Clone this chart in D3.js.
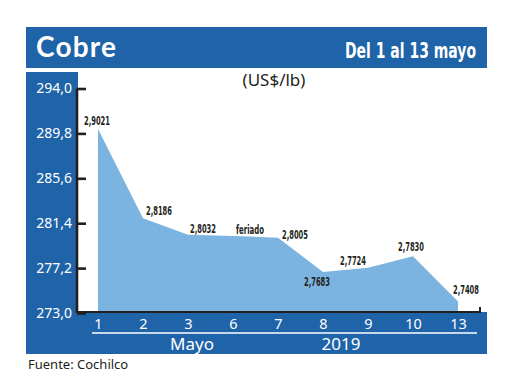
<!DOCTYPE html>
<html><head><meta charset="utf-8">
<script src="https://cdn.jsdelivr.net/npm/d3@7"></script>
<style>
html,body{margin:0;padding:0;background:#fff;}
svg{display:block;}
</style></head>
<body>
<svg id="c" width="520" height="390"></svg>
<script>
const categories = ["1","2","3","6","7","8","9","10","13"];
const values = [290.21, 281.86, 280.32, 280.2, 280.05, 276.83, 277.24, 278.30, 274.08];
const valueLabels = ["2,9021","2,8186","2,8032","feriado","2,8005","2,7683","2,7724","2,7830","2,7408"];
const yTicks = [273.0, 277.2, 281.4, 285.6, 289.8, 294.0];
const labelOffsets = [[-1,-4],[16,-3],[15,-2],[17,-2],[17,1],[-6,14],[-15,-3],[-2,-5],[8,-7]];

const BLUE = "#1f63a8", AREA = "#7bb4e0", DARK = "#231f20";
const svg = d3.select("#c");
const data = categories.map((c,i)=>({c, v: values[i], label: valueLabels[i], off: labelOffsets[i]}));

// panels
svg.append("rect").attr("x",26).attr("y",27).attr("width",461).attr("height",41).attr("fill",BLUE);
svg.append("rect").attr("x",26).attr("y",72).attr("width",52).attr("height",282).attr("fill",BLUE);
svg.append("rect").attr("x",26).attr("y",312).attr("width",461).attr("height",42).attr("fill",BLUE);

// title
svg.append("text").attr("x",36).attr("y",57).text("Cobre")
  .attr("fill","#fff").attr("font-family","Lato, 'Noto Sans', sans-serif").attr("font-weight","bold")
  .attr("font-size",28).attr("letter-spacing",1.2);
const sub = svg.append("text").attr("text-anchor","end").text("Del 1 al 13 mayo")
  .attr("fill","#fff").attr("font-family","'DejaVu Sans Condensed',sans-serif")
  .attr("font-weight","bold").attr("font-size",20.5);
const sw = sub.node().getComputedTextLength();
sub.attr("transform","translate(476,58) scale("+(131/sw)+",1)");
svg.append("text").attr("x",274).attr("y",86).attr("text-anchor","middle").text("(US$/lb)")
  .attr("fill",DARK).attr("font-family","'Noto Sans', sans-serif").attr("font-size",17);

// scales
const x = d3.scalePoint().domain(categories).range([98,458]).padding(0);
const y = d3.scaleLinear().domain([273,294]).range([313,88.5]);

// area
const area = d3.area().x(d=>x(d.c)).y0(312).y1(d=>y(d.v));
svg.append("path").datum(data).attr("d",area).attr("fill",AREA);

// y axis
const yAxis = d3.axisLeft(y).tickValues(yTicks).tickSize(-9).tickPadding(5)
  .tickFormat(d=>d3.format(".1f")(d).replace(".",","));
const gy = svg.append("g").attr("transform","translate(77,0)").call(yAxis);
gy.select(".domain").attr("stroke",DARK).attr("stroke-width",2.6).attr("d","M0,"+y(294)+"V"+y(273));
gy.selectAll(".tick line").attr("stroke",DARK).attr("stroke-width",2.6);
gy.selectAll(".tick text").attr("fill","#fff").attr("font-family","'Noto Sans', sans-serif").attr("font-size",14);

// x axis line
svg.append("line").attr("x1",77).attr("x2",481).attr("y1",312).attr("y2",312).attr("stroke",DARK).attr("stroke-width",2);
svg.append("line").attr("x1",480).attr("x2",480).attr("y1",307).attr("y2",312).attr("stroke",DARK).attr("stroke-width",2);

// x axis labels
const xAxis = d3.axisBottom(x).tickSize(0).tickPadding(4);
const gx = svg.append("g").attr("transform","translate(0,315)").call(xAxis);
gx.select(".domain").remove();
gx.selectAll(".tick text").attr("fill","#fff").attr("font-family","'Noto Sans', sans-serif").attr("font-size",14.5);
svg.append("line").attr("x1",92).attr("x2",477).attr("y1",333).attr("y2",333).attr("stroke","#fff").attr("stroke-width",1.5);
svg.append("text").attr("x",192).attr("y",350).attr("text-anchor","middle").text("Mayo")
  .attr("fill","#fff").attr("font-family","'Noto Sans', sans-serif").attr("font-size",17);
svg.append("text").attr("x",341).attr("y",350).attr("text-anchor","middle").text("2019")
  .attr("fill","#fff").attr("font-family","'Noto Sans', sans-serif").attr("font-size",17);

// data labels
svg.append("g").selectAll("text").data(data).join("text")
  .attr("x",d=>x(d.c)+d.off[0]).attr("y",d=>y(d.v)+d.off[1])
  .attr("text-anchor","middle").text(d=>d.label)
  .attr("fill",DARK).attr("font-family","'DejaVu Sans Condensed',sans-serif")
  .attr("font-weight","bold").attr("font-size",12.5)
  .attr("textLength",d=>d.label==="feriado"?28:26).attr("lengthAdjust","spacingAndGlyphs");

// source
svg.append("text").attr("x",28).attr("y",369).text("Fuente: Cochilco")
  .attr("fill",DARK).attr("font-family","'Noto Sans', sans-serif").attr("font-size",13);
</script>
</body></html>
